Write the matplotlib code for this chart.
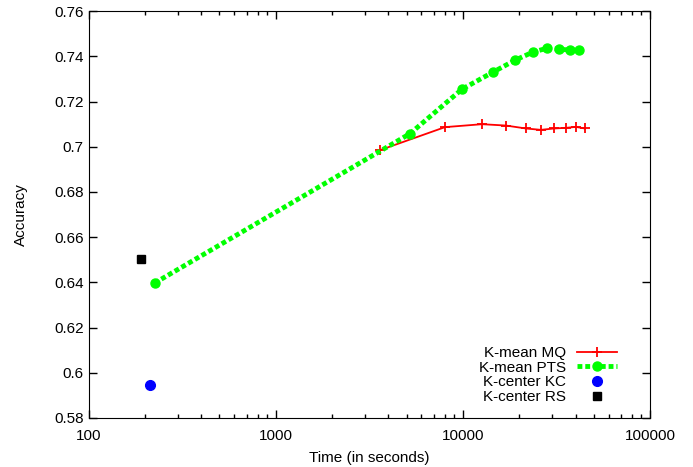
import matplotlib
matplotlib.use('Agg')
import matplotlib.pyplot as plt
from matplotlib.ticker import FuncFormatter, LogLocator, FixedLocator

plt.rcParams['font.family'] = ['Liberation Sans', 'DejaVu Sans']

# K-mean MQ
mq_time = [3600, 8020, 12650, 16980, 21740, 26120, 30690, 35550, 40200, 44880]
mq_acc = [0.6985, 0.7087, 0.7100, 0.7094, 0.7081, 0.7075, 0.7081, 0.7084, 0.7088, 0.7081]

# K-mean PTS
pts_time = [225, 5210, 9890, 14450, 18970, 23640, 28100, 32580, 37350, 41730]
pts_acc = [0.6397, 0.7058, 0.7255, 0.7330, 0.7383, 0.7419, 0.7436, 0.7432, 0.7428, 0.7428]

# single points
kc_time = [212]
kc_acc = [0.5945]
rs_time = [190]
rs_acc = [0.6502]

fig = plt.figure(figsize=(6.93, 4.67), dpi=100)
ax = fig.add_axes([0.128, 0.105, 0.81, 0.871])

ax.plot(mq_time, mq_acc, color='#ff0000', lw=1.3, marker='+', ms=7, mew=1.3,
        label='K-mean MQ')
ax.plot(pts_time, pts_acc, color='#00ff00', lw=3.5, ls=(0, (1, 0.6)), marker='o',
        ms=6.5, label='K-mean PTS')
ax.plot(kc_time, kc_acc, ls='none', marker='o', color='#0000ff', ms=7,
        label='K-center KC')
ax.plot(rs_time, rs_acc, ls='none', marker='s', color='black', ms=6,
        label='K-center RS')

ax.set_xscale('log')
ax.set_xlim(100, 100000)
ax.set_ylim(0.58, 0.76)
ax.xaxis.set_major_locator(FixedLocator([100, 1000, 10000, 100000]))
ax.xaxis.set_minor_locator(LogLocator(base=10, subs=range(2, 10)))
ax.xaxis.set_major_formatter(FuncFormatter(lambda v, p: '%g' % v))
ax.yaxis.set_major_locator(FixedLocator([0.58 + 0.02 * i for i in range(10)]))
ax.yaxis.set_major_formatter(FuncFormatter(lambda v, p: '%g' % round(v, 2)))

ax.tick_params(which='both', direction='in', top=True, right=True, labelsize=11)
ax.tick_params(which='major', length=6, width=1)
ax.tick_params(which='minor', length=3, width=1)
ax.tick_params(axis='x', pad=8)

ax.set_xlabel('Time (in seconds)', fontsize=11, labelpad=6)
ax.set_ylabel('Accuracy', fontsize=11, labelpad=19)

leg = ax.legend(loc='lower right', bbox_to_anchor=(0.965, 0.0), frameon=False,
                markerfirst=False, fontsize=11, handlelength=2.6,
                labelspacing=0.05, handletextpad=0.7, numpoints=1)

fig.savefig('out.png', dpi=100)
